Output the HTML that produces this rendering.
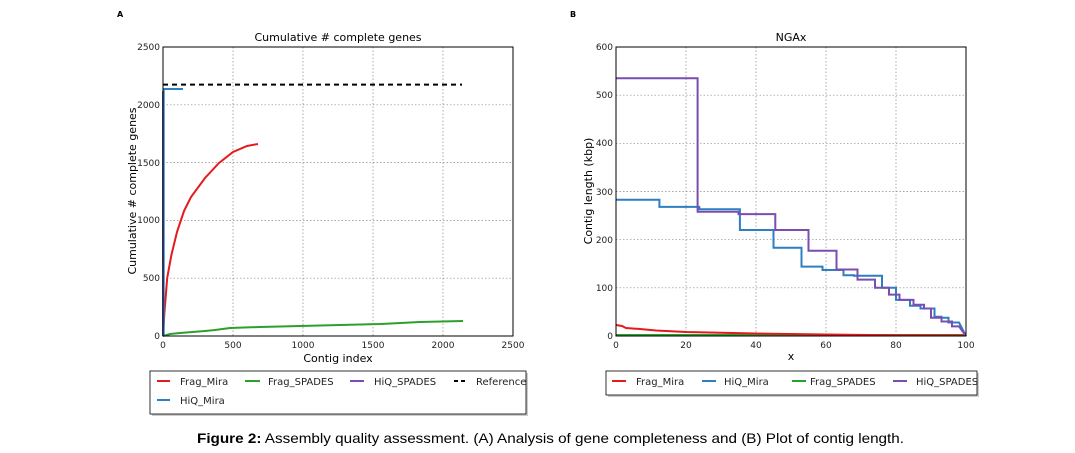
<!DOCTYPE html>
<html><head><meta charset="utf-8"><style>
html,body{margin:0;padding:0;background:#fff;}
svg{display:block;font-family:"DejaVu Sans","Liberation Sans",sans-serif;}
</style></head><body>
<svg width="1075" height="453" viewBox="0 0 1075 453" xmlns="http://www.w3.org/2000/svg">
<rect width="1075" height="453" fill="#fff"/>
<!-- Panel A -->
<text x="117" y="17" font-size="8" font-weight="bold">A</text>
<text x="338" y="41" font-size="11" text-anchor="middle">Cumulative # complete genes</text>
<g stroke="#888" stroke-width="0.7" stroke-dasharray="1.5,2">
<line x1="233" y1="47" x2="233" y2="336"/><line x1="303" y1="47" x2="303" y2="336"/><line x1="373" y1="47" x2="373" y2="336"/><line x1="443" y1="47" x2="443" y2="336"/>
<line x1="163" y1="104.8" x2="513" y2="104.8"/><line x1="163" y1="162.6" x2="513" y2="162.6"/><line x1="163" y1="220.4" x2="513" y2="220.4"/><line x1="163" y1="278.2" x2="513" y2="278.2"/>
</g>
<g font-size="9" fill="#222" text-anchor="end">
<text x="160" y="339">0</text><text x="160" y="281">500</text><text x="160" y="223">1000</text><text x="160" y="166">1500</text><text x="160" y="108">2000</text><text x="160" y="50">2500</text>
</g>
<g font-size="9" fill="#222" text-anchor="middle">
<text x="163" y="348">0</text><text x="233" y="348">500</text><text x="303" y="348">1000</text><text x="373" y="348">1500</text><text x="443" y="348">2000</text><text x="513" y="348">2500</text>
</g>
<text x="338" y="362" font-size="11" text-anchor="middle">Contig index</text>
<text transform="translate(136,191) rotate(-90)" font-size="11" text-anchor="middle">Cumulative # complete genes</text>
<line x1="163" y1="84.6" x2="462" y2="84.6" stroke="#000" stroke-width="2" stroke-dasharray="5,4"/>
<polyline fill="none" stroke="#2ca02c" stroke-width="2" points="163,336 170,334 180,333 205,331 215,330 230,328 260,327 300,326 340,325 380,324 420,322 463,321"/>
<polyline fill="none" stroke="#e41a1c" stroke-width="2" points="163,336 164.4,313 167.2,278 171.4,255 177,232 184,211 191,197 205,178 219,163 233,152 247,146 258,144"/>
<polyline fill="none" stroke="#7b4db0" stroke-width="2" points="163,336 163,91"/>
<polyline fill="none" stroke="#2d7fc1" stroke-width="2" points="163.7,336 163.7,89 183,89"/>
<rect x="163" y="47" width="350" height="289" fill="none" stroke="#000" stroke-width="1"/>
<rect x="152" y="373" width="376" height="43" fill="#999" opacity="0.5"/>
<rect x="150" y="371" width="376" height="43" fill="#fff" stroke="#000" stroke-width="0.8"/>
<g font-size="10" fill="#222">
<line x1="157" y1="381" x2="170" y2="381" stroke="#e41a1c" stroke-width="2"/><text x="180" y="385">Frag_Mira</text>
<line x1="245" y1="381" x2="260" y2="381" stroke="#2ca02c" stroke-width="2"/><text x="268" y="385">Frag_SPADES</text>
<line x1="350" y1="381" x2="364" y2="381" stroke="#7b4db0" stroke-width="2"/><text x="374" y="385">HiQ_SPADES</text>
<line x1="454" y1="381" x2="466" y2="381" stroke="#000" stroke-width="2" stroke-dasharray="4,3"/><text x="476" y="385">Reference</text>
<line x1="157" y1="400" x2="170" y2="400" stroke="#2d7fc1" stroke-width="2"/><text x="180" y="404">HiQ_Mira</text>
</g>
<!-- Panel B -->
<text x="570" y="17" font-size="8" font-weight="bold">B</text>
<text x="791" y="41" font-size="11" text-anchor="middle">NGAx</text>
<g stroke="#888" stroke-width="0.7" stroke-dasharray="1.5,2">
<line x1="686" y1="47" x2="686" y2="336"/><line x1="756" y1="47" x2="756" y2="336"/><line x1="826" y1="47" x2="826" y2="336"/><line x1="896" y1="47" x2="896" y2="336"/>
<line x1="616" y1="287.8" x2="966" y2="287.8"/><line x1="616" y1="239.7" x2="966" y2="239.7"/><line x1="616" y1="191.5" x2="966" y2="191.5"/><line x1="616" y1="143.3" x2="966" y2="143.3"/><line x1="616" y1="95.2" x2="966" y2="95.2"/>
</g>
<g font-size="9" fill="#222" text-anchor="end">
<text x="613" y="339">0</text><text x="613" y="291">100</text><text x="613" y="243">200</text><text x="613" y="195">300</text><text x="613" y="146">400</text><text x="613" y="98">500</text><text x="613" y="50">600</text>
</g>
<g font-size="9" fill="#222" text-anchor="middle">
<text x="616" y="348">0</text><text x="686" y="348">20</text><text x="756" y="348">40</text><text x="826" y="348">60</text><text x="896" y="348">80</text><text x="966" y="348">100</text>
</g>
<text x="791" y="360" font-size="11" text-anchor="middle">x</text>
<text transform="translate(592,191) rotate(-90)" font-size="11" text-anchor="middle">Contig length  (kbp)</text>
<line x1="616" y1="335" x2="966" y2="335" stroke="#2ca02c" stroke-width="2"/>
<polyline fill="none" stroke="#e41a1c" stroke-width="2" points="616,325 622,326 626,328 640,329 656,330.5 686,332 756,333.5 826,334.5 896,335.3 966,335.5"/>
<polyline fill="none" stroke="#2d7fc1" stroke-width="2" points="616,199.7 659.4,199.7 659.4,206.9 699.3,206.9 699.3,209.3 739.9,209.3 739.9,230 773.5,230 773.5,247.8 801.5,247.8 801.5,266.6 822.5,266.6 822.5,270 843.5,270 843.5,275.3 854,275.3 854,275.8 882,275.8 882,287.8 896,287.8 896,299.9 910,299.9 910,305.7 920.5,305.7 920.5,308.5 934.5,308.5 934.5,316.7 941.5,316.7 941.5,317.7 948.5,317.7 948.5,322.5 959,322.5 966,336"/>
<polyline fill="none" stroke="#7b4db0" stroke-width="2" points="616,78.3 697.6,78.3 697.6,211.7 738.5,211.7 738.5,214.1 775.3,214.1 775.3,230 808.5,230 808.5,250.7 836.5,250.7 836.5,269.5 857.5,269.5 857.5,279.6 875,279.6 875,287.8 889,287.8 889,294.6 899.5,294.6 899.5,299.9 913.5,299.9 913.5,304.7 924,304.7 924,308.5 931,308.5 931,317.7 941.5,317.7 941.5,321.5 952,321.5 952,326.4 959,326.4 966,336"/>
<rect x="616" y="47" width="350" height="289" fill="none" stroke="#000" stroke-width="1"/>
<rect x="608" y="373" width="371" height="24" fill="#999" opacity="0.5"/>
<rect x="606" y="371" width="371" height="24" fill="#fff" stroke="#000" stroke-width="0.8"/>
<g font-size="10" fill="#222">
<line x1="612" y1="381" x2="626" y2="381" stroke="#e41a1c" stroke-width="2"/><text x="636" y="385">Frag_Mira</text>
<line x1="702" y1="381" x2="716" y2="381" stroke="#2d7fc1" stroke-width="2"/><text x="724" y="385">HiQ_Mira</text>
<line x1="792" y1="381" x2="806" y2="381" stroke="#2ca02c" stroke-width="2"/><text x="810" y="385">Frag_SPADES</text>
<line x1="893" y1="381" x2="907" y2="381" stroke="#7b4db0" stroke-width="2"/><text x="916" y="385">HiQ_SPADES</text>
</g>
<text x="197" y="443" font-family="Liberation Sans, sans-serif" font-size="14" textLength="707" lengthAdjust="spacingAndGlyphs"><tspan font-weight="bold">Figure 2:</tspan> Assembly quality assessment. (A) Analysis of gene completeness and (B) Plot of contig length.</text>
</svg>
</body></html>
